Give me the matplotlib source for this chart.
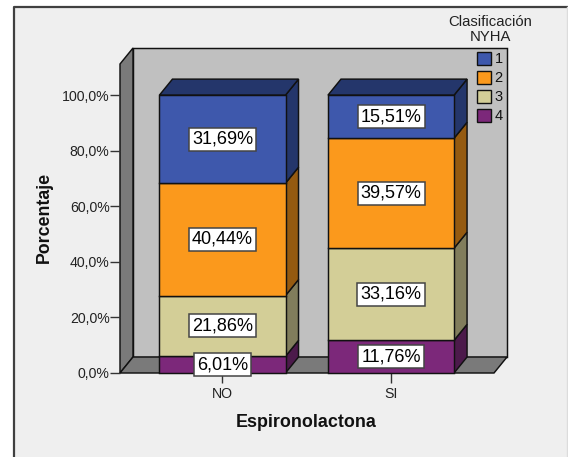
import matplotlib
matplotlib.use('Agg')
import matplotlib.pyplot as plt
from matplotlib.patches import Polygon, Rectangle, Patch

plt.rcParams['font.family'] = ['Liberation Sans', 'DejaVu Sans']

# Data
categories = ['NO', 'SI']
clases = ['1', '2', '3', '4']
clase_4 = [6.01, 11.76]
clase_3 = [21.86, 33.16]
clase_2 = [40.44, 39.57]
clase_1 = [31.69, 15.51]
etiquetas_y = ['0,0%', '20,0%', '40,0%', '60,0%', '80,0%', '100,0%']
valores_y = [0, 20, 40, 60, 80, 100]

# stacked from the bottom up
series = [clase_4, clase_3, clase_2, clase_1]
colores = ['#7C287A', '#D3CE97', '#FB991C', '#3E58AC']
sombras = ['#4C1A4B', '#817D5C', '#955A10', '#24366B']

W, H = 568, 457
fig = plt.figure(figsize=(W / 100, H / 100), dpi=100, facecolor='white')

# grey panel with the dark left/top border, kept behind the axes
fig.add_artist(Rectangle((13 / W, -0.01), (W - 14) / W, 1.01 - 7 / H, transform=fig.transFigure,
                         facecolor='#EFEFEF', edgecolor='none', zorder=-3))
fig.add_artist(plt.Line2D([13.5 / W, 13.5 / W, 1], [0, 1 - 6.5 / H, 1 - 6.5 / H], transform=fig.transFigure,
                          color='#404040', lw=1.6, zorder=-2))
fig.add_artist(plt.Line2D([567 / W, 567 / W], [0, 1 - 7 / H], transform=fig.transFigure, color='#DCDCDC', lw=1,
                          zorder=-2))

ax = fig.add_axes([120 / W, (H - 373) / H, 374 / W, 309 / H])
ax.patch.set_visible(False)
x0, x1 = -0.608, 1.611
y0, y1 = 0, 111.2
ax.set_xlim(x0, x1)
ax.set_ylim(y0, y1)
for s in ax.spines.values():
    s.set_visible(False)

# depth of the 3D effect in data units
dx = 13 / 168.5
dy = 16 / 2.78
ancho = 0.748


def poli(pts, color, z):
    ax.add_patch(Polygon(pts, closed=True, facecolor=color, edgecolor='#111111', lw=1.05,
                         zorder=z, clip_on=False, joinstyle='miter'))


# walls and floor
poli([(x0 + dx, dy), (x1 + dx, dy), (x1 + dx, y1 + dy), (x0 + dx, y1 + dy)], '#C0C0C0', 1)
poli([(x0, 0), (x0 + dx, dy), (x0 + dx, y1 + dy), (x0, y1)], '#7A7A7A', 1.1)
poli([(x0, 0), (x1, 0), (x1 + dx, dy), (x0 + dx, dy)], '#7A7A7A', 1.1)

# bars
for i in range(len(categories)):
    izq = i - ancho / 2
    der = i + ancho / 2
    base = 0
    for serie, c, sc in zip(series, colores, sombras):
        tope = base + serie[i]
        poli([(izq, base), (der, base), (der, tope), (izq, tope)], c, 3)
        poli([(der, base), (der + dx, base + dy), (der + dx, tope + dy), (der, tope)], sc, 2.5)
        base = tope
    poli([(izq, base), (der, base), (der + dx, base + dy), (izq + dx, base + dy)], sombras[-1], 2.5)

# value labels
for i in range(len(categories)):
    base = 0
    for serie in series:
        v = serie[i]
        ax.text(i, base + v / 2, f'{v:.2f}%'.replace('.', ','), ha='center', va='center', fontsize=13,
                color='#000000', zorder=5 + base / 100,
                bbox=dict(boxstyle='square,pad=0.17', facecolor='white', edgecolor='#444444', lw=1.1))
        base += v

ax.set_xticks(range(len(categories)))
ax.set_xticklabels(categories, fontsize=10.2, color='#222222')
ax.set_yticks(valores_y)
ax.set_yticklabels(etiquetas_y, fontsize=10.2, color='#222222')
ax.tick_params(axis='y', length=7, width=1, color='#333333', pad=0.5)
ax.tick_params(axis='x', length=7, width=1, color='#333333', pad=3)

ax.set_ylabel('Porcentaje', fontsize=12.8, fontweight='bold', color='#111111', va='center')
ax.yaxis.set_label_coords(-0.203, 0.502)
ax.set_xlabel('Espironolactona', fontsize=12.9, fontweight='bold', color='#111111', va='center')
ax.xaxis.set_label_coords(0.4987, -0.161)

# legend, same order as the classes 1..4
handles = [Patch(facecolor=c, edgecolor='#111111', lw=1) for c in colores[::-1]]
leg = ax.legend(handles, clases, title='Clasificación\nNYHA', frameon=False, fontsize=10.5, title_fontsize=10.7,
                loc='upper center', bbox_to_anchor=(490 / W, (H - 15) / H), bbox_transform=fig.transFigure,
                borderpad=0, borderaxespad=0, handlelength=0.95, handleheight=1.0, handletextpad=0.25,
                labelspacing=0.3)
leg.set_zorder(10)
leg._legend_box.sep = 6
leg.get_title().set_linespacing(1.05)
leg.get_title().set_multialignment('center')
leg.get_title().set_color('#222222')
for t in leg.get_texts():
    t.set_color('#111111')

fig.savefig('out.png', dpi=100)
